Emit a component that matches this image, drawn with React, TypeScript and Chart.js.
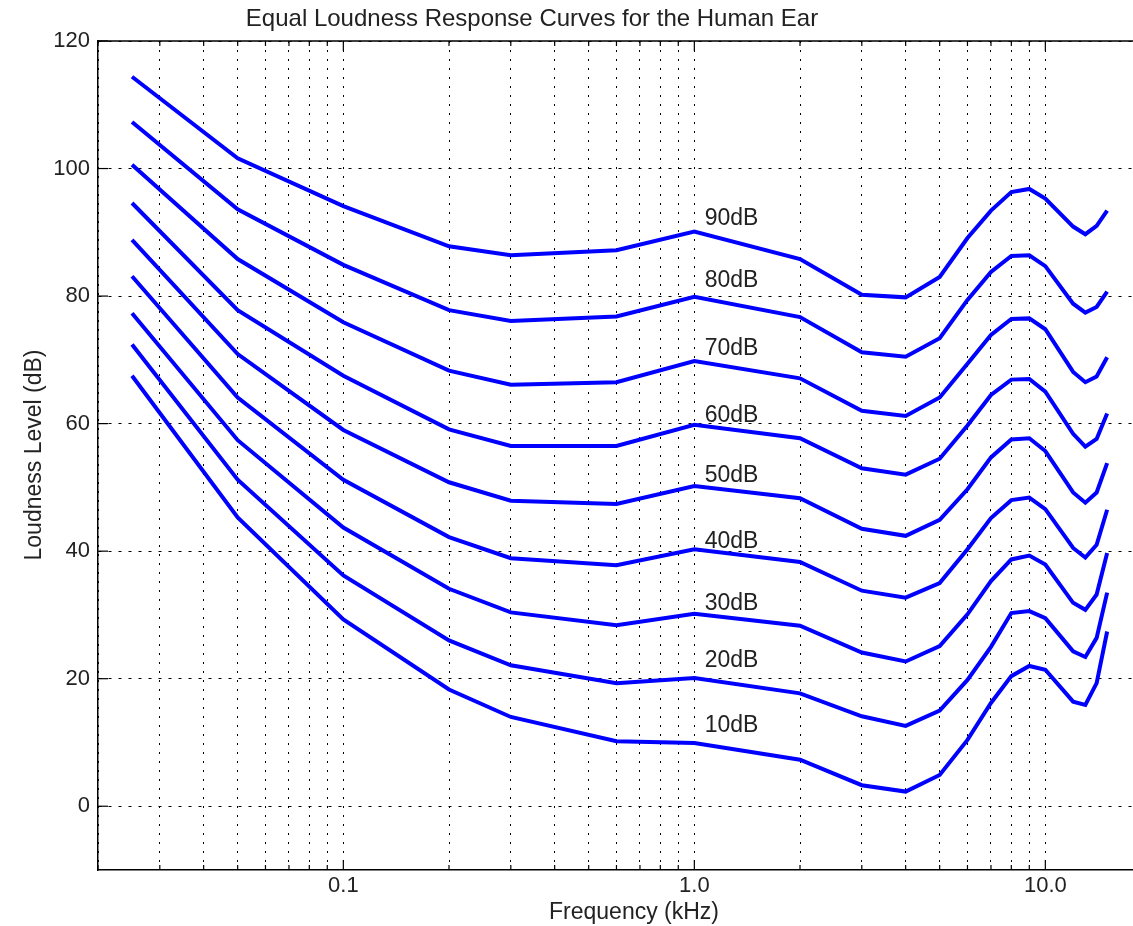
import React, { useEffect, useRef } from 'react';
import { Chart, registerables } from 'chart.js';

Chart.register(...registerables);

// ---- data ----
const frequenciesKHz = [0.025, 0.05, 0.1, 0.2, 0.3, 0.6, 1, 2, 3, 4, 5, 6, 7, 8, 9, 10, 12, 13, 14, 15];

const curve10dB = [67.5, 45.3, 29.3, 18.3, 14.0, 10.2, 9.9, 7.3, 3.3, 2.3, 4.9, 10.4, 16.2, 20.4, 22.0, 21.4, 16.4, 15.9, 19.3, 27.4];
const curve20dB = [72.4, 51.2, 36.2, 26.0, 22.1, 19.3, 20.1, 17.7, 14.1, 12.6, 15.0, 19.8, 25.0, 30.3, 30.6, 29.5, 24.3, 23.4, 26.4, 33.5];
const curve30dB = [77.3, 57.4, 43.7, 34.1, 30.4, 28.4, 30.2, 28.3, 24.1, 22.7, 25.1, 30.1, 35.3, 38.7, 39.3, 37.9, 31.9, 30.8, 33.2, 39.7];
const curve40dB = [83.1, 64.1, 51.2, 42.2, 38.9, 37.8, 40.3, 38.3, 33.8, 32.7, 35.0, 40.3, 45.2, 48.0, 48.4, 46.6, 40.5, 39.0, 41.0, 46.5];
const curve50dB = [88.8, 70.9, 59.0, 50.8, 47.9, 47.4, 50.2, 48.3, 43.5, 42.4, 44.9, 49.7, 54.7, 57.5, 57.7, 55.7, 49.2, 47.6, 49.2, 53.8];
const curve60dB = [94.6, 77.8, 67.5, 59.1, 56.5, 56.5, 59.8, 57.7, 53.0, 52.0, 54.5, 59.7, 64.5, 66.9, 67.0, 65.0, 58.4, 56.4, 57.6, 61.6];
const curve70dB = [100.6, 85.8, 75.9, 68.3, 66.1, 66.5, 69.8, 67.1, 62.0, 61.2, 64.1, 69.4, 73.9, 76.4, 76.5, 74.8, 68.1, 66.5, 67.4, 70.4];
const curve80dB = [107.3, 93.6, 84.9, 77.8, 76.1, 76.8, 79.9, 76.7, 71.2, 70.5, 73.4, 79.4, 83.8, 86.3, 86.4, 84.7, 78.8, 77.4, 78.3, 80.7];
const curve90dB = [114.4, 101.6, 94.1, 87.8, 86.4, 87.2, 90.1, 85.8, 80.2, 79.8, 83.0, 89.1, 93.4, 96.3, 96.8, 95.3, 90.9, 89.7, 91.0, 93.4];

const curves = [curve10dB, curve20dB, curve30dB, curve40dB, curve50dB, curve60dB, curve70dB, curve80dB, curve90dB];
const levelLabels = ['10dB', '20dB', '30dB', '40dB', '50dB', '60dB', '70dB', '80dB', '90dB'];
const levelLabelY = [12.6, 22.8, 31.7, 41.5, 51.9, 61.3, 71.7, 82.4, 92.1];
const levelLabelX = 1.07;

const xMajorTicks = [0.1, 1, 10];
const xMajorTickLabels = ['0.1', '1.0', '10.0'];
const xMinorTicks = [
  0.02, 0.03, 0.04, 0.05, 0.06, 0.07, 0.08, 0.09,
  0.2, 0.3, 0.4, 0.5, 0.6, 0.7, 0.8, 0.9,
  2, 3, 4, 5, 6, 7, 8, 9,
  20,
];
const yTicks = [0, 20, 40, 60, 80, 100, 120];

const titleText = 'Equal Loudness Response Curves for the Human Ear';
const xTitleText = 'Frequency (kHz)';
const yTitleText = 'Loudness Level (dB)';

const FONT = "'Liberation Sans', Arial, Helvetica, sans-serif";
const TEXT_COLOR = '#222';

const allXTicks = [...xMinorTicks, ...xMajorTicks].sort((a, b) => a - b);
const isMajor = (v: number) => xMajorTicks.some((m) => Math.abs(m - v) < 1e-9);

const overlayPlugin = {
  id: 'overlay',
  afterDraw(chart: any) {
    const { ctx, chartArea: a, scales } = chart;
    const xs = scales.x;
    const ys = scales.y;
    ctx.save();
    const line = (x1: number, y1: number, x2: number, y2: number) => {
      ctx.beginPath();
      ctx.moveTo(x1, y1);
      ctx.lineTo(x2, y2);
      ctx.stroke();
    };
    // box (top and right)
    ctx.strokeStyle = '#000';
    ctx.lineWidth = 1.5;
    ctx.beginPath();
    ctx.moveTo(a.left, a.top);
    ctx.lineTo(a.right, a.top);
    ctx.lineTo(a.right, a.bottom);
    ctx.stroke();
    // inward ticks
    ctx.lineWidth = 1.2;
    for (const v of allXTicks) {
      const px = xs.getPixelForValue(v);
      const len = isMajor(v) ? 10 : 5;
      line(px, a.bottom, px, a.bottom - len);
      line(px, a.top, px, a.top + len);
    }
    for (const v of yTicks) {
      const py = ys.getPixelForValue(v);
      line(a.left, py, a.left + 10, py);
      line(a.right, py, a.right - 10, py);
    }
    // curve labels
    ctx.fillStyle = TEXT_COLOR;
    ctx.font = `23px ${FONT}`;
    ctx.textAlign = 'left';
    ctx.textBaseline = 'middle';
    levelLabels.forEach((t, i) => {
      ctx.fillText(t, xs.getPixelForValue(levelLabelX), ys.getPixelForValue(levelLabelY[i]));
    });
    // axis titles
    ctx.textAlign = 'center';
    ctx.textBaseline = 'alphabetic';
    ctx.fillText(xTitleText, 634, 919);
    ctx.font = `24px ${FONT}`;
    ctx.fillText(titleText, 532, 26);
    ctx.font = `23px ${FONT}`;
    ctx.translate(41, 455);
    ctx.rotate(-Math.PI / 2);
    ctx.fillText(yTitleText, 0, 0);
    ctx.restore();
  },
};

export default function App() {
  const canvasRef = useRef<HTMLCanvasElement | null>(null);

  useEffect(() => {
    if (!canvasRef.current) return;
    const datasets = curves.map((vals, i) => ({
      label: levelLabels[i],
      data: frequenciesKHz.map((f, j) => ({ x: f, y: vals[j] })),
      borderColor: '#0000ff',
      backgroundColor: '#0000ff',
      borderWidth: 4,
      pointRadius: 0,
      tension: 0,
      fill: false,
    }));

    const chart = new Chart(canvasRef.current, {
      type: 'line',
      data: { datasets },
      options: {
        animation: false,
        responsive: false,
        devicePixelRatio: 1,
        layout: { padding: { left: 8, top: 41, right: 19, bottom: 0 } },
        plugins: {
          legend: { display: false },
          tooltip: { enabled: false },
          title: { display: false },
        },
        scales: {
          x: {
            type: 'logarithmic',
            min: 0.02,
            max: 20,
            afterBuildTicks: (scale: any) => {
              scale.ticks = allXTicks.map((v) => ({ value: v, major: isMajor(v) }));
            },
            afterFit: (scale: any) => {
              scale.height = 56;
            },
            ticks: {
              autoSkip: false,
              maxRotation: 0,
              minRotation: 0,
              padding: 3,
              color: TEXT_COLOR,
              font: { family: FONT, size: 22 },
              callback: (value: any) => {
                const idx = xMajorTicks.findIndex((m) => Math.abs(m - Number(value)) < 1e-9);
                return idx >= 0 ? xMajorTickLabels[idx] : '';
              },
            },
            grid: { color: '#000', lineWidth: 1, drawTicks: false },
            border: { display: true, color: '#000', width: 1.5, dash: [2, 7] },
          },
          y: {
            type: 'linear',
            min: -10,
            max: 120,
            afterBuildTicks: (scale: any) => {
              scale.ticks = yTicks.map((v) => ({ value: v }));
            },
            afterFit: (scale: any) => {
              scale.width = 90;
            },
            ticks: {
              autoSkip: false,
              padding: 8,
              color: TEXT_COLOR,
              font: { family: FONT, size: 22 },
              callback: (value: any) => String(value),
            },
            grid: { color: '#000', lineWidth: 1, drawTicks: false },
            border: { display: true, color: '#000', width: 1.5, dash: [3, 7] },
          },
        },
      },
      plugins: [overlayPlugin],
    });
    return () => chart.destroy();
  }, []);

  return (
    <div
      style={{
        position: 'fixed',
        left: 0,
        top: 0,
        width: 1133,
        height: 926,
        overflow: 'hidden',
        background: '#fff',
      }}
    >
      <canvas ref={canvasRef} width={1170} height={926} style={{ display: 'block' }} />
    </div>
  );
}
